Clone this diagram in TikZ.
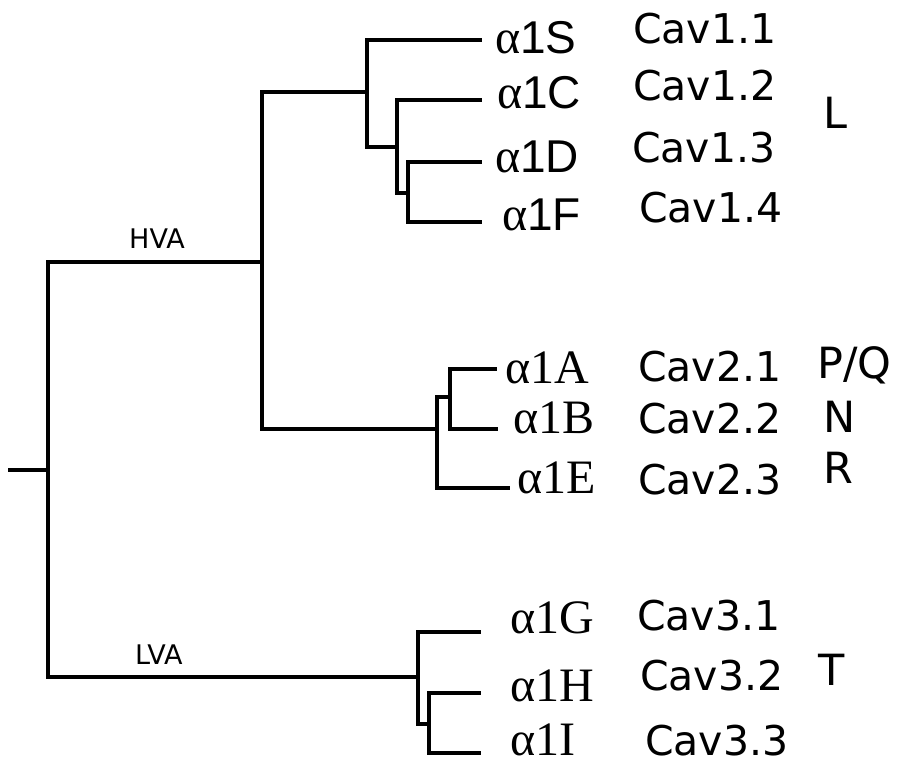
\documentclass[tikz,border=0pt]{standalone}
\usepackage{fontspec}
\setmainfont{DejaVu Sans}
\newfontfamily\genesans{Liberation Sans}
\newfontfamily\geneserif{Liberation Serif}
\begin{document}
\begin{tikzpicture}[x=1pt,y=-1pt,
  branch/.style={line width=4.6pt,line cap=rect,line join=miter},
  twig/.style={line width=3.4pt,line cap=rect,line join=miter},
  gene/.style={anchor=base west,inner sep=0pt,font=\fontsize{48}{48}\selectfont},
  cav/.style={anchor=base west,inner sep=0pt,font=\fontsize{41}{41}\selectfont},
  chan/.style={anchor=base west,inner sep=0pt,font=\fontsize{43}{43}\selectfont},
  grp/.style={anchor=base west,inner sep=0pt,font=\fontsize{27}{27}\selectfont}]
\useasboundingbox (0,0) rectangle (898,764);

% internal nodes of the tree
\coordinate (stub) at (10,470);
\coordinate (root) at (48,470);
\coordinate (hva)  at (262,262);
\coordinate (lva)  at (418,677);
\coordinate (lcl)  at (367,92);
\coordinate (cdf)  at (397,147);
\coordinate (df)   at (408,193);
\coordinate (abe)  at (437,429);
\coordinate (ab)   at (450,397);
\coordinate (hi)   at (429,724);

% leaf ends
\coordinate (S) at (480,40);
\coordinate (C) at (480,100);
\coordinate (D) at (480,162);
\coordinate (F) at (480,222);
\coordinate (A) at (495,369);
\coordinate (B) at (496,429);
\coordinate (E) at (508,488);
\coordinate (G) at (479,632);
\coordinate (H) at (479,693);
\coordinate (I) at (479,753);

% branches
\draw[branch] (stub) -- (root);
\draw[branch] (root) |- (hva);
\draw[branch] (root) |- (lva);
\draw[branch] (hva) |- (lcl);
\draw[branch] (hva) |- (abe);
\draw[branch] (lcl) |- (S);
\draw[branch] (lcl) |- (cdf);
\draw[branch] (cdf) |- (C);
\draw[branch] (cdf) |- (df);
\draw[branch] (df) |- (D);
\draw[branch] (df) |- (F);
\draw[twig] (abe) |- (ab);
\draw[twig] (abe) |- (E);
\draw[twig] (ab) |- (A);
\draw[twig] (ab) |- (B);
\draw[twig] (lva) |- (G);
\draw[twig] (lva) |- (hi);
\draw[twig] (hi) |- (H);
\draw[twig] (hi) |- (I);

% clade labels
\node[grp] (lhva) at (129,248) {HVA};
\node[grp] (llva) at (135,664) {LVA};

% subunit genes
\node[gene] (gS) at (495,53)  {\geneserif α\genesans\fontsize{46}{46}\selectfont 1S};
\node[gene] (gC) at (497,108) {\geneserif α\genesans\fontsize{46}{46}\selectfont 1C};
\node[gene] (gD) at (495,172) {\geneserif α\genesans\fontsize{46}{46}\selectfont 1D};
\node[gene] (gF) at (502,230) {\geneserif α\genesans\fontsize{46}{46}\selectfont 1F};
\node[gene] (gA) at (505,383) {\geneserif α1A};
\node[gene] (gB) at (513,433) {\geneserif α1B};
\node[gene] (gE) at (517,493) {\geneserif α1E};
\node[gene] (gG) at (510,633) {\geneserif α1G};
\node[gene] (gH) at (510,701) {\geneserif α1H};
\node[gene] (gI) at (510,755) {\geneserif α1I};

% channel names
\node[cav] (c11) at (633,43)  {Cav1.1};
\node[cav] (c12) at (633,100) {Cav1.2};
\node[cav] (c13) at (632,162) {Cav1.3};
\node[cav] (c14) at (639,222) {Cav1.4};
\node[cav] (c21) at (638,381) {Cav2.1};
\node[cav] (c22) at (638,433) {Cav2.2};
\node[cav] (c23) at (638,494) {Cav2.3};
\node[cav] (c31) at (637,630) {Cav3.1};
\node[cav] (c32) at (640,690) {Cav3.2};
\node[cav] (c33) at (645,755) {Cav3.3};

% current types
\node[chan] (tL)  at (823,128) {L};
\node[chan] (tPQ) at (817,378) {P/Q};
\node[chan] (tN)  at (823,432) {N};
\node[chan] (tR)  at (823,483) {R};
\node[chan] (tT)  at (818,685) {T};
\end{tikzpicture}
\end{document}
